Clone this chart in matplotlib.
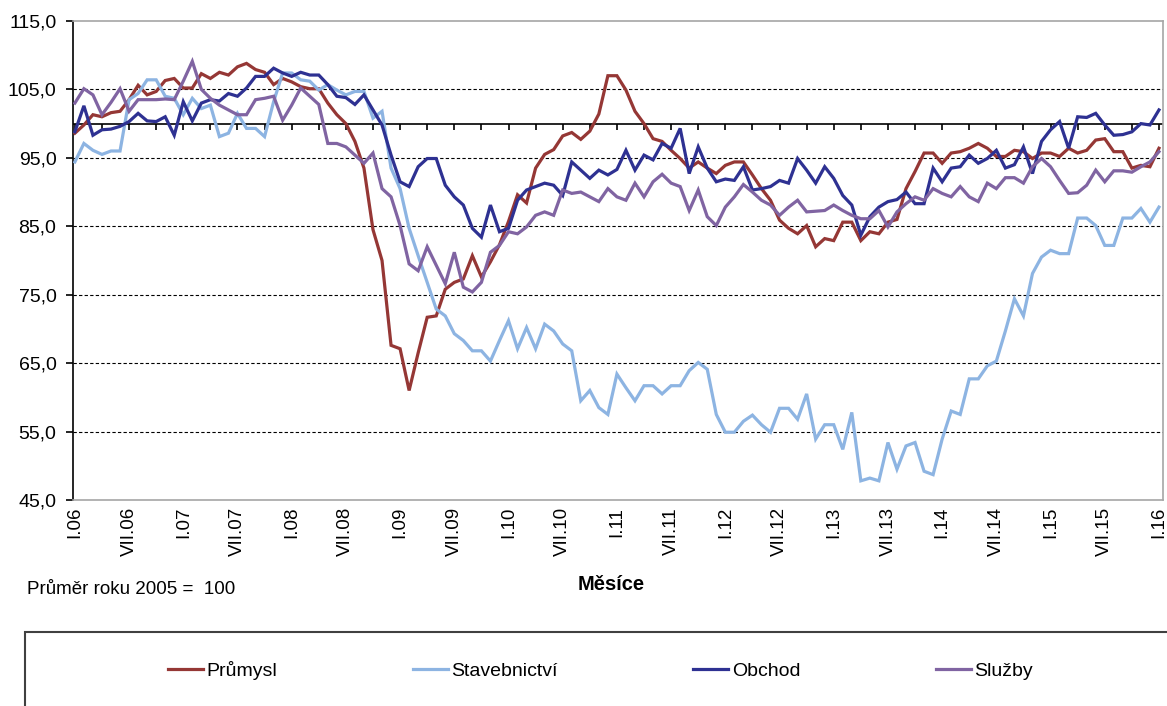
import numpy as np
import matplotlib
matplotlib.use("Agg")
import matplotlib.pyplot as plt
from matplotlib.patches import Rectangle

plt.rcParams['font.family'] = ['Liberation Sans', 'DejaVu Sans']

# monthly indices, average 2005 = 100, I.06 .. I.16
prumysl = [98.6, 99.8, 101.3, 101.0, 101.6, 101.8, 103.5, 105.6, 104.2, 104.7,
           106.3, 106.6, 105.2, 105.2, 107.3, 106.6, 107.5, 107.1, 108.3, 108.8,
           107.9, 107.5, 105.7, 106.6, 106.1, 105.4, 105.1, 105.1, 103.0, 101.3,
           100.0, 97.4, 93.5, 84.5, 80.0, 67.6, 67.1, 61.0, 66.5, 71.7,
           71.9, 75.8, 76.8, 77.3, 80.7, 77.6, 79.8, 82.3, 85.7, 89.6,
           88.4, 93.5, 95.5, 96.2, 98.2, 98.7, 97.7, 98.9, 101.4, 107.0,
           107.0, 104.9, 101.8, 100.0, 97.8, 97.4, 96.1, 94.9, 93.5, 94.4,
           93.5, 92.7, 93.9, 94.4, 94.4, 92.5, 90.5, 88.8, 85.9, 84.7,
           83.9, 85.1, 82.0, 83.2, 82.9, 85.6, 85.6, 82.9, 84.2, 83.9,
           85.6, 86.0, 90.5, 93.0, 95.7, 95.7, 94.2, 95.7, 95.9, 96.4,
           97.1, 96.4, 95.2, 95.2, 96.1, 95.9, 94.9, 95.7, 95.7, 95.2,
           96.4, 95.7, 96.1, 97.6, 97.8, 95.9, 95.9, 93.5, 93.9, 93.7,
           96.4]

stavebnictvi = [94.4, 97.1, 96.1, 95.5, 96.0, 96.0, 103.5, 104.4, 106.4, 106.4,
                104.0, 103.7, 101.3, 103.7, 102.2, 102.7, 98.1, 98.6, 101.5, 99.3,
                99.3, 98.1, 103.2, 107.4, 107.4, 106.4, 106.2, 104.9, 105.7, 104.9,
                104.2, 104.7, 104.7, 100.8, 101.8, 93.5, 90.5, 84.7, 80.7, 76.8,
                72.9, 71.9, 69.3, 68.3, 66.8, 66.8, 65.3, 68.3, 71.2, 67.1,
                70.2, 67.1, 70.7, 69.7, 67.8, 66.8, 59.5, 61.0, 58.5, 57.5,
                63.4, 61.4, 59.5, 61.7, 61.7, 60.5, 61.7, 61.7, 63.9, 65.1,
                64.1, 57.5, 54.9, 54.9, 56.5, 57.4, 56.0, 54.9, 58.4, 58.4,
                56.8, 60.5, 53.9, 56.0, 56.0, 52.4, 57.8, 47.8, 48.2, 47.8,
                53.4, 49.5, 52.9, 53.4, 49.2, 48.7, 53.9, 58.0, 57.5, 62.7,
                62.7, 64.6, 65.3, 69.7, 74.4, 71.9, 78.1, 80.5, 81.5, 81.0,
                81.0, 86.2, 86.2, 85.1, 82.2, 82.2, 86.2, 86.2, 87.6, 85.6,
                87.8]

obchod = [98.8, 102.6, 98.3, 99.1, 99.2, 99.6, 100.3, 101.5, 100.4, 100.3,
          101.0, 98.3, 103.2, 100.4, 103.0, 103.5, 103.3, 104.4, 104.0, 105.2,
          106.9, 106.9, 108.1, 107.4, 106.9, 107.5, 107.1, 107.1, 105.7, 104.0,
          103.8, 102.8, 104.2, 102.0, 99.8, 95.4, 91.5, 90.8, 93.7, 94.9,
          94.9, 91.0, 89.3, 88.1, 84.7, 83.4, 88.1, 84.2, 84.7, 88.8,
          90.3, 90.8, 91.3, 91.0, 89.5, 94.4, 93.2, 92.0, 93.2, 92.5,
          93.3, 96.1, 93.2, 95.4, 94.7, 97.1, 96.4, 99.3, 92.7, 96.6,
          93.5, 91.5, 91.9, 91.7, 93.7, 90.3, 90.5, 90.8, 91.7, 91.3,
          94.9, 93.2, 91.3, 93.7, 92.0, 89.5, 88.1, 83.7, 86.4, 87.8,
          88.6, 88.9, 90.0, 88.3, 88.3, 93.5, 91.5, 93.5, 93.7, 95.4,
          94.2, 94.9, 96.1, 93.5, 94.0, 96.6, 92.7, 97.4, 99.1, 100.3,
          96.4, 101.0, 100.9, 101.5, 99.8, 98.3, 98.4, 98.8, 100.0, 99.8,
          102.0]

sluzby = [103.0, 105.1, 104.2, 101.3, 103.1, 105.1, 101.8, 103.5, 103.5, 103.5,
          103.6, 103.5, 106.2, 109.1, 105.0, 103.7, 102.7, 102.0, 101.3, 101.3,
          103.5, 103.7, 104.0, 100.5, 102.7, 105.2, 104.0, 102.8, 97.1, 97.1,
          96.6, 95.4, 94.2, 95.7, 90.5, 89.3, 85.1, 79.5, 78.5, 82.0,
          79.3, 76.6, 81.2, 76.1, 75.4, 76.8, 81.2, 82.2, 84.2, 83.9,
          84.9, 86.6, 87.1, 86.6, 90.3, 89.8, 90.0, 89.3, 88.6, 90.5,
          89.3, 88.8, 91.3, 89.3, 91.5, 92.6, 91.3, 90.8, 87.3, 90.3,
          86.4, 85.1, 87.8, 89.3, 91.1, 90.0, 88.8, 88.1, 86.6, 87.8,
          88.8, 87.1, 87.2, 87.3, 88.1, 87.3, 86.6, 86.1, 86.1, 87.3,
          84.9, 87.1, 88.3, 89.3, 88.8, 90.5, 89.8, 89.3, 90.8, 89.3,
          88.6, 91.3, 90.5, 92.1, 92.1, 91.3, 93.7, 94.9, 93.7, 91.7,
          89.8, 89.9, 91.0, 93.2, 91.5, 93.1, 93.1, 92.9, 93.7, 94.4,
          95.9]

series_names = ['Průmysl', 'Stavebnictví', 'Obchod', 'Služby']
series_colors = ['#953735', '#8DB4E2', '#2E3192', '#8064A2']

years = ['06', '07', '08', '09', '10', '11', '12', '13', '14', '15', '16']
tick_labels = []
for yr in years:
    tick_labels += ['I.' + yr, 'VII.' + yr]
tick_labels = tick_labels[:-1]

months = np.arange(len(prumysl))

fig = plt.figure(figsize=(11.67, 7.06), dpi=100)
ax = fig.add_axes([0.0626, 0.2918, 0.934, 0.6785])

for vals, name, col in zip([prumysl, stavebnictvi, obchod, sluzby],
                           series_names, series_colors):
    ax.plot(months, vals, color=col, lw=2.3, label=name,
            solid_joinstyle='miter', zorder=3)

ax.set_xlim(-0.2, 120.45)
ax.set_ylim(45, 115)

yt = np.arange(45, 116, 10)
ax.set_yticks(yt)
ax.set_yticklabels([('%.1f' % v).replace('.', ',') for v in yt], fontsize=14)
for v in yt[1:-1]:
    ax.axhline(v, color='black', lw=0.8, ls=(0, (3, 2)), zorder=1)

# category axis crosses at 100, labels stay low
ax.axhline(100, color='black', lw=1.2, zorder=2)
ax.vlines(np.arange(0, 121, 3), 99.1, 100, color='black', lw=1.2, zorder=2)

ax.set_xticks(np.arange(0, 121, 6))
ax.set_xticklabels(tick_labels, rotation=90, fontsize=13.5, va='top')
ax.tick_params(axis='x', length=0, pad=5)
ax.tick_params(axis='y', length=5, width=1.2, pad=7, color='black')

ax.spines['left'].set_color('black')
ax.spines['left'].set_linewidth(1.2)
for s in ['top', 'right', 'bottom']:
    ax.spines[s].set_color('#a6a6a6')
    ax.spines[s].set_linewidth(1.2)

fig.text(0.0235, 1 - 590 / 706, 'Průměr roku 2005 =  100', fontsize=13.5,
         va='center', ha='left')
fig.text(0.5236, 1 - 584 / 706, 'Měsíce', fontsize=14.5, fontweight='bold',
         va='center', ha='center')

fig.patches.append(Rectangle((25 / 1167, -0.05), 1.1, 0.05 + 1 - 632 / 706,
                             transform=fig.transFigure, fill=False,
                             edgecolor='#404040', lw=1.5))

fig.legend(loc='center', bbox_to_anchor=(0.5146, 1 - 670 / 706), ncol=4,
           frameon=False, fontsize=14, handlelength=1.8, handletextpad=0.2,
           columnspacing=6.95)

fig.savefig('out.png', dpi=100)
